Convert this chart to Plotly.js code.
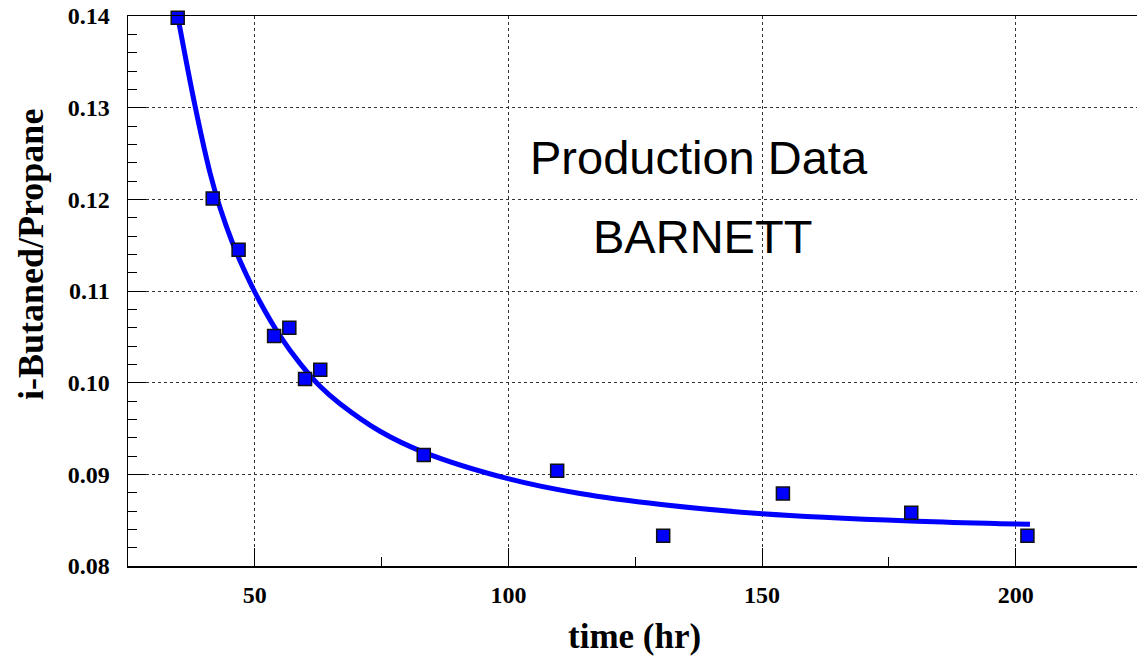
<!DOCTYPE html>
<html>
<head>
<meta charset="utf-8">
<script src="https://cdn.plot.ly/plotly-3.0.1.min.js"></script>
<style>html,body{margin:0;padding:0;background:#fff;}#chart{width:1137px;height:656px;}</style>
</head>
<body>
<div id="chart"></div>
<script>
// Measured production data
const timeHr = [34.8, 41.7, 46.8, 53.8, 56.8, 59.9, 62.9, 83.3, 109.6, 130.5, 154.1, 179.4, 202.3];
const ratio = [0.1398, 0.1201, 0.1145, 0.1051, 0.1060, 0.1004, 0.1014, 0.0921, 0.0904, 0.0833, 0.0879, 0.0858, 0.0833];

// Fitted curve
const fitTime = [34.86, 38.21, 41.16, 43.13, 45.50, 48.06, 51.02, 54.96, 58.90, 62.85, 66.79, 74.67, 83.35, 100.1, 114.1, 130.1, 150.0, 179.2, 196.9, 202.8];
const fitRatio = [0.1398, 0.1302, 0.1229, 0.1191, 0.1154, 0.1121, 0.1088, 0.1051, 0.1021, 0.0996, 0.0977, 0.0947, 0.0924, 0.0895, 0.0879, 0.0867, 0.0857, 0.0849, 0.08462, 0.08455];

const xTicks = [50, 100, 150, 200];
const yTicks = [0.08, 0.09, 0.10, 0.11, 0.12, 0.13, 0.14];

const xTitle = 'time (hr)';
const yTitle = 'i-Butaned/Propane';
const noteLines = ['Production Data', 'BARNETT'];
const notePos = [[137.6, 0.1246], [138.2, 0.1159]];

const tickFont = {family: 'Liberation Serif', size: 24, color: '#000', weight: 'bold'};

const traces = [
  {x: fitTime, y: fitRatio, mode: 'lines', line: {color: '#0000ff', width: 5, shape: 'spline', smoothing: 1}, hoverinfo: 'skip'},
  {x: timeHr, y: ratio, mode: 'markers', cliponaxis: false,
   marker: {symbol: 'square', size: 13, color: '#0000ff', line: {color: '#111', width: 1.5}}}
];

const layout = {
  width: 1137, height: 656,
  margin: {l: 128, r: 0, t: 16, b: 90},
  paper_bgcolor: '#fff', plot_bgcolor: '#fff',
  showlegend: false,
  xaxis: {
    range: [25, 223.9], tickvals: xTicks, ticks: 'inside', ticklen: 18, tickwidth: 1, tickcolor: '#000',
    showline: true, linecolor: '#000', linewidth: 1.5, mirror: true,
    showgrid: true, gridcolor: '#333', griddash: 'dot', gridwidth: 1,
    zeroline: false, tickfont: tickFont, ticklabelstandoff: 7,
    minor: {dtick: 25, tick0: 25, ticks: 'inside', ticklen: 9, tickcolor: '#000', showgrid: false}
  },
  yaxis: {
    range: [0.08, 0.14], tickvals: yTicks, tickformat: '.2f', ticks: 'inside', ticklen: 18, tickwidth: 1, tickcolor: '#000',
    showline: true, linecolor: '#000', linewidth: 1.5, mirror: false,
    showgrid: true, gridcolor: '#333', griddash: 'dot', gridwidth: 1,
    zeroline: false, tickfont: tickFont, ticklabelstandoff: 12,
    minor: {dtick: 0.002, tick0: 0.08, ticks: 'inside', ticklen: 9, tickcolor: '#000', showgrid: false}
  },
  annotations: [
    {text: noteLines[0], x: notePos[0][0], y: notePos[0][1], xref: 'x', yref: 'y', showarrow: false,
     font: {family: 'Liberation Sans', size: 47, color: '#000'}},
    {text: noteLines[1], x: notePos[1][0], y: notePos[1][1], xref: 'x', yref: 'y', showarrow: false,
     font: {family: 'Liberation Sans', size: 47, color: '#000'}},
    {text: xTitle, xref: 'paper', yref: 'paper', x: 0.5015, y: -0.129, xanchor: 'center', yanchor: 'middle',
     showarrow: false, font: {family: 'Liberation Serif', size: 35, color: '#000', weight: 'bold'}},
    {text: yTitle, xref: 'paper', yref: 'paper', x: -0.0961, y: 0.5655, xanchor: 'center', yanchor: 'middle',
     textangle: -90, showarrow: false, font: {family: 'Liberation Serif', size: 36, color: '#000', weight: 'bold'}}
  ]
};

Plotly.newPlot('chart', traces, layout, {displayModeBar: false, staticPlot: true});
</script>
</body>
</html>
